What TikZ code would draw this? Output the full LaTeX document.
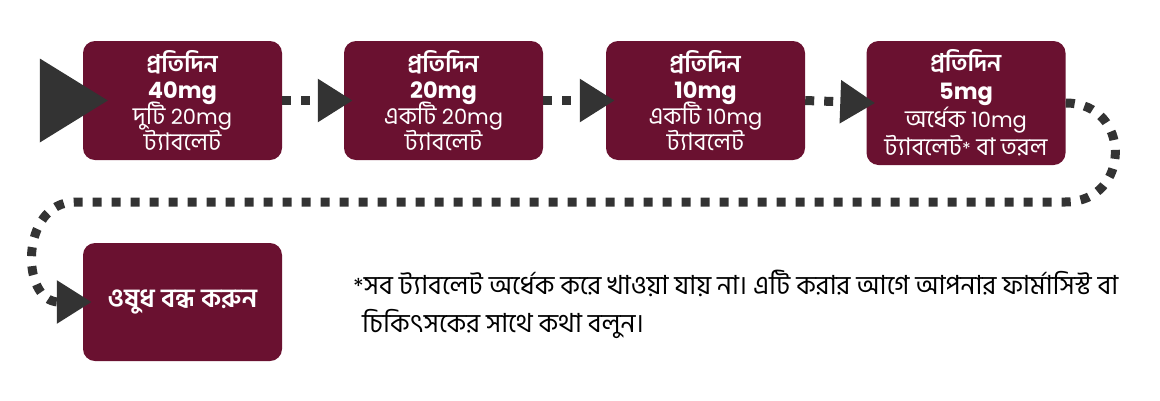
\documentclass[tikz,border=0pt]{standalone}
\usepackage{fontspec}
\setmainfont[Script=Bengali,Scale=1.35]{Hind Siliguri}
\newfontfamily\lat{Poppins}
\usetikzlibrary{arrows.meta}
\definecolor{boxc}{HTML}{6A1130}
\definecolor{dotc}{HTML}{333333}
\newcommand{\noskip}{\setlength{\lineskiplimit}{-100pt}}
\tikzset{
  stepbox/.style={fill=boxc, rounded corners=12pt, minimum width=199pt, minimum height=119pt,
    inner sep=0pt, text=white, align=center, font={\fontsize{18}{26}\selectfont\noskip}},
  dotline/.style={draw=dotc, line width=9pt, dash pattern=on 9pt off 10pt},
  tip/.style={-{Triangle[width=41pt,length=35pt]}},
  notetext/.style={anchor=west, align=left, text=black, font={\fontsize{19.5}{38}\selectfont\noskip}, inner sep=0pt}
}
\newcommand{\mg}[1]{{\lat\fontsize{21}{26}\selectfont #1}}
\newcommand{\mgb}[1]{{\lat\bfseries\fontsize{22.5}{26}\selectfont #1}}
\begin{document}
\begin{tikzpicture}[x=1pt,y=-1pt]
\useasboundingbox (0,0) rectangle (1160,400);
\node[stepbox] (b1) at (182.5,100.5) {\textbf{প্রতিদিন}\\ \mgb{40mg}\\ দুটি \mg{20mg}\\ ট্যাবলেট};
\node[stepbox] (b2) at (443.5,100.5) {\textbf{প্রতিদিন}\\ \mgb{20mg}\\ একটি \mg{20mg}\\ ট্যাবলেট};
\node[stepbox] (b3) at (705.5,100.5) {\textbf{প্রতিদিন}\\ \mgb{10mg}\\ একটি \mg{10mg}\\ ট্যাবলেট};
\node[stepbox, minimum height=124pt, font={\fontsize{18}{28}\selectfont\noskip}] (b4) at (966,103) {\textbf{প্রতিদিন}\\ \mgb{5mg}\\ অর্ধেক \mg{10mg}\\ ট্যাবলেট{\lat *} বা তরল};
\node[stepbox, minimum height=118pt, font={\fontsize{19.5}{26}\selectfont}] (b5) at (182.5,302) {\textbf{ওষুধ বন্ধ করুন}};
\node[notetext] (note) at (353,304) {{\lat\fontsize{22}{38}\selectfont *}সব ট্যাবলেট অর্ধেক করে খাওয়া যায় না। এটি করার আগে আপনার ফার্মাসিস্ট বা\\ \hspace*{9pt}চিকিৎসকের সাথে কথা বলুন।};
\fill[dotc] ([xshift=-43pt,yshift=42pt]b1.west) -- ([xshift=25pt]b1.west) -- ([xshift=-43pt,yshift=-42pt]b1.west) -- cycle;
\draw[dotline, tip] (b1.east) -- ([xshift=9pt]b2.west);
\draw[dotline, tip] (b2.east) -- ([xshift=9pt]b3.west);
\draw[dotline, tip] (b3.east) -- ([xshift=9pt]b4.west);
\coordinate (r) at (1065,202);
\coordinate (l) at (75,202);
\draw[dotline, tip] (b4.east) .. controls (1132,103) and (1132,202) .. (r) -- (l) .. controls (20,202) and (20,302) .. ([xshift=9pt]b5.west);
\end{tikzpicture}
\end{document}
